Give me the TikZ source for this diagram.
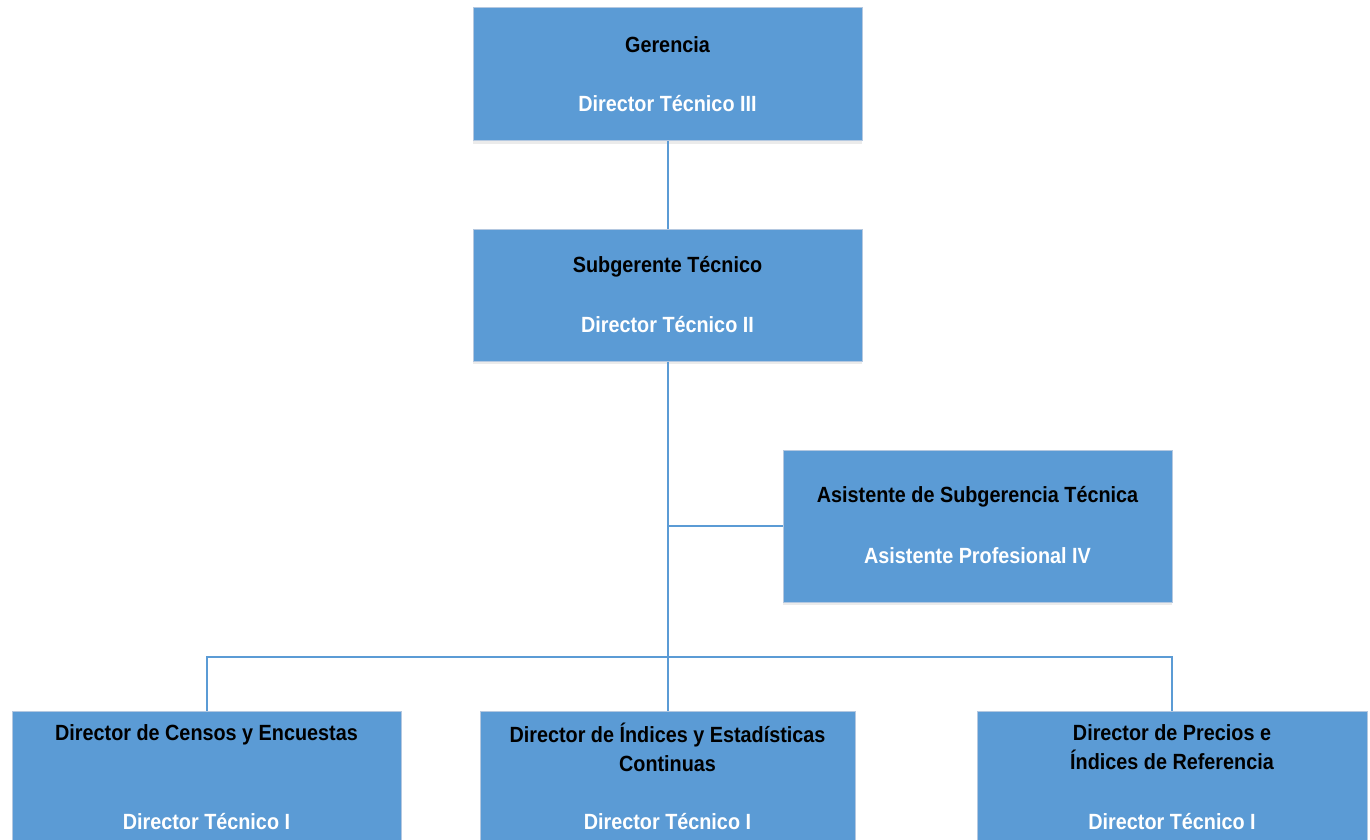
\documentclass[tikz,border=0pt]{standalone}
\usepackage{fontspec}
\setmainfont[FakeStretch=0.9]{Liberation Sans}
\usetikzlibrary{shadows}
\definecolor{boxblue}{HTML}{5B9BD5}
\definecolor{boxedge}{HTML}{B4C8E0}
\tikzset{
  orgbox/.style={rectangle, fill=boxblue, draw=boxedge, line width=1pt, inner sep=0pt,
    drop shadow={fill=black, opacity=0.08, shadow xshift=0pt, shadow yshift=-3pt}},
  conn/.style={draw=boxblue, line width=2pt},
  head/.style={font=\fontsize{22}{29}\selectfont\bfseries, text=black, align=center, inner sep=0pt},
  sub/.style={font=\fontsize{22}{29}\selectfont\bfseries, text=white, align=center, inner sep=0pt}
}
\begin{document}
\begin{tikzpicture}[x=1pt,y=-1pt]
\useasboundingbox (0,0) rectangle (1370,840);
\begin{scope}
\clip (0,0) rectangle (1370,840);
% boxes
\node[orgbox, minimum width=389pt, minimum height=133pt] (g) at (667.5,74.5) {};
\node[orgbox, minimum width=389pt, minimum height=132pt] (s) at (667.5,295) {};
\node[orgbox, minimum width=389pt, minimum height=152pt] (a) at (977.5,526) {};
\node[orgbox, minimum width=389pt, minimum height=160pt] (c1) at (206.5,791) {};
\node[orgbox, minimum width=375pt, minimum height=160pt] (c2) at (667.5,791) {};
\node[orgbox, minimum width=390pt, minimum height=160pt] (c3) at (1172,791) {};
% connectors
\coordinate (bus) at (667,657);
\draw[conn] (g.south) -- (s.north);
\draw[conn] (s.south) -- (c2.north);
\draw[conn] (s.south |- a.west) -- (a.west);
\draw[conn] (c1.north) -- (c1.north |- bus) -- (c3.north |- bus) -- (c3.north);
% texts
\node[head] (gt1) at (667.5,45) {Gerencia};
\node[sub]  (gt2) at (667.5,104) {Director Técnico III};
\node[head] (st1) at (667.5,267) {Subgerente Técnico};
\node[sub]  (st2) at (667.5,325) {Director Técnico II};
\node[head] (at1) at (977.5,497) {Asistente de Subgerencia Técnica};
\node[sub]  (at2) at (977.5,556) {Asistente Profesional IV};
\node[head] (c1t1) at (206.5,735) {Director de Censos y Encuestas};
\node[sub]  (c1t2) at (206.5,822) {Director Técnico I};
\node[head] (c2t1) at (667.5,747) {Director de Índices y Estadísticas\\Continuas};
\node[sub]  (c2t2) at (667.5,822) {Director Técnico I};
\node[head] (c3t1) at (1172,747) {Director de Precios e\\Índices de Referencia};
\node[sub]  (c3t2) at (1172,822) {Director Técnico I};
\end{scope}
\end{tikzpicture}
\end{document}
